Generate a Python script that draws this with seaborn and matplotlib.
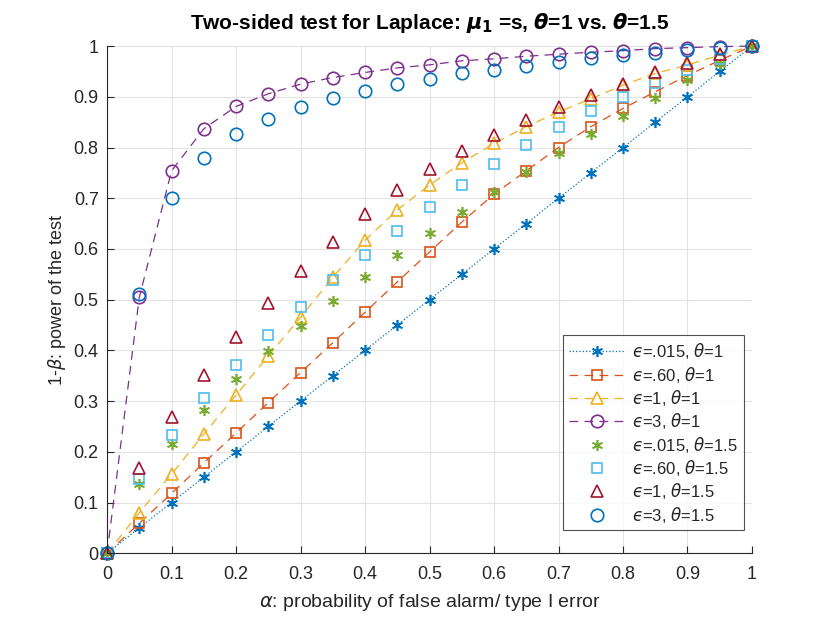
import numpy as np
import pandas as pd
import matplotlib
matplotlib.use("Agg")
import matplotlib.pyplot as plt
import seaborn as sns

alpha = [0, 0.05, 0.1, 0.15, 0.2, 0.25, 0.3, 0.35, 0.4, 0.45, 0.5,
         0.55, 0.6, 0.65, 0.7, 0.75, 0.8, 0.85, 0.9, 0.95, 1.0]

eps015_t1 = [0, 0.05, 0.1, 0.15, 0.2, 0.25, 0.3, 0.35, 0.4, 0.45, 0.5,
             0.55, 0.6, 0.65, 0.7, 0.75, 0.8, 0.85, 0.9, 0.95, 1.0]
eps060_t1 = [0, 0.059, 0.118, 0.178, 0.237, 0.297, 0.356, 0.415, 0.475, 0.535, 0.594,
             0.653, 0.708, 0.754, 0.800, 0.841, 0.877, 0.910, 0.942, 0.972, 1.0]
eps1_t1 = [0, 0.080, 0.156, 0.235, 0.312, 0.389, 0.465, 0.544, 0.617, 0.677, 0.726,
           0.770, 0.808, 0.841, 0.870, 0.896, 0.923, 0.946, 0.963, 0.982, 1.0]
eps3_t1 = [0, 0.505, 0.754, 0.837, 0.881, 0.906, 0.925, 0.938, 0.948, 0.957, 0.963,
           0.971, 0.975, 0.980, 0.984, 0.988, 0.991, 0.995, 0.997, 0.999, 1.0]
eps015_t15 = [0, 0.136, 0.215, 0.283, 0.343, 0.398, 0.449, 0.498, 0.544, 0.589, 0.632,
              0.672, 0.712, 0.752, 0.790, 0.826, 0.862, 0.898, 0.933, 0.965, 1.0]
eps060_t15 = [0, 0.147, 0.233, 0.306, 0.371, 0.430, 0.486, 0.539, 0.588, 0.636, 0.682,
              0.726, 0.767, 0.805, 0.840, 0.872, 0.900, 0.927, 0.953, 0.975, 1.0]
eps1_t15 = [0, 0.169, 0.268, 0.351, 0.426, 0.493, 0.556, 0.613, 0.669, 0.716, 0.757,
            0.793, 0.824, 0.854, 0.880, 0.904, 0.926, 0.948, 0.967, 0.985, 1.0]
eps3_t15 = [0, 0.511, 0.700, 0.780, 0.826, 0.856, 0.880, 0.898, 0.912, 0.925, 0.936,
            0.946, 0.953, 0.961, 0.969, 0.976, 0.982, 0.987, 0.992, 0.997, 1.0]

labels = [r"$ϵ$=.015, $\theta$=1", r"$ϵ$=.60, $\theta$=1",
          r"$ϵ$=1, $\theta$=1", r"$ϵ$=3, $\theta$=1",
          r"$ϵ$=.015, $\theta$=1.5", r"$ϵ$=.60, $\theta$=1.5",
          r"$ϵ$=1, $\theta$=1.5", r"$ϵ$=3, $\theta$=1.5"]
series = [eps015_t1, eps060_t1, eps1_t1, eps3_t1,
          eps015_t15, eps060_t15, eps1_t15, eps3_t15]
colors = ["#0072BD", "#D95319", "#EDB120", "#7E2F8E",
          "#77AC30", "#4DBEEE", "#A2142F", "#0072BD"]
markers = [(6, 2, 0), "s", "^", "o", (6, 2, 0), "s", "^", "o"]
msizes = [8, 6.5, 9, 9, 8, 6.5, 9, 9]
lstyles = [":", (0, (7, 5)), (0, (7, 5)), (0, (7, 5)), "none", "none", "none", "none"]

sns.set_theme(style="white")
plt.rcParams["font.family"] = ["Liberation Sans", "DejaVu Sans"]
plt.rcParams["mathtext.fontset"] = "dejavusans"

fig = plt.figure(figsize=(8.3, 6.23), dpi=100)
ax = fig.add_axes([0.129, 0.112, 0.777, 0.814])

for vals, lab, c, m, ms, ls in zip(series, labels, colors, markers, msizes, lstyles):
    df = pd.DataFrame({"alpha": alpha, "power": vals})
    sns.lineplot(data=df, x="alpha", y="power", ax=ax, color=c, marker=m,
                 markersize=ms, markerfacecolor="none", markeredgecolor=c,
                 markeredgewidth=1.2, linestyle=ls, linewidth=0.9, label=lab,
                 clip_on=False)

ax.set_xlim(0, 1)
ax.set_ylim(0, 1)
ticks = np.round(np.arange(0, 1.01, 0.1), 1)
ticklabels = ["0"] + [f"{t:g}" for t in ticks[1:-1]] + ["1"]
ax.set_xticks(ticks)
ax.set_xticklabels(ticklabels)
ax.set_yticks(ticks)
ax.set_yticklabels(ticklabels)
ax.grid(True, color="#e3e3e3", linewidth=0.8)
ax.set_axisbelow(True)
for s in ["top", "right"]:
    ax.spines[s].set_visible(False)
for s in ["left", "bottom"]:
    ax.spines[s].set_color("#262626")
    ax.spines[s].set_linewidth(0.8)
ax.tick_params(axis="both", direction="in", length=5, width=0.8, color="#262626",
               labelsize=13, labelcolor="#262626", left=True, bottom=True)
ax.tick_params(axis="x", pad=9)
ax.tick_params(axis="y", pad=6)

ax.set_xlabel(r"$\alpha$: probability of false alarm/ type I error", fontsize=14,
              color="#262626", labelpad=7)
ax.set_ylabel(r"1-$\beta$: power of the test", fontsize=13, color="#262626", labelpad=4)
ax.set_title(r"Two-sided test for Laplace: $\mathbfit{\mu}_{\mathbf{1}}$ =s, $\mathbfit{\theta}$=1 vs. $\mathbfit{\theta}$=1.5",
             fontsize=15, fontweight="bold", color="black", pad=12)

leg = ax.legend(loc="lower right", bbox_to_anchor=(0.9876, 0.045), borderaxespad=0,
                fontsize=12, handlelength=3.3, frameon=True, fancybox=False,
                borderpad=0.35, labelspacing=0.2, handletextpad=0.5)
leg.get_frame().set_edgecolor("#262626")
leg.get_frame().set_linewidth(0.8)

fig.savefig("out.png", dpi=100)
